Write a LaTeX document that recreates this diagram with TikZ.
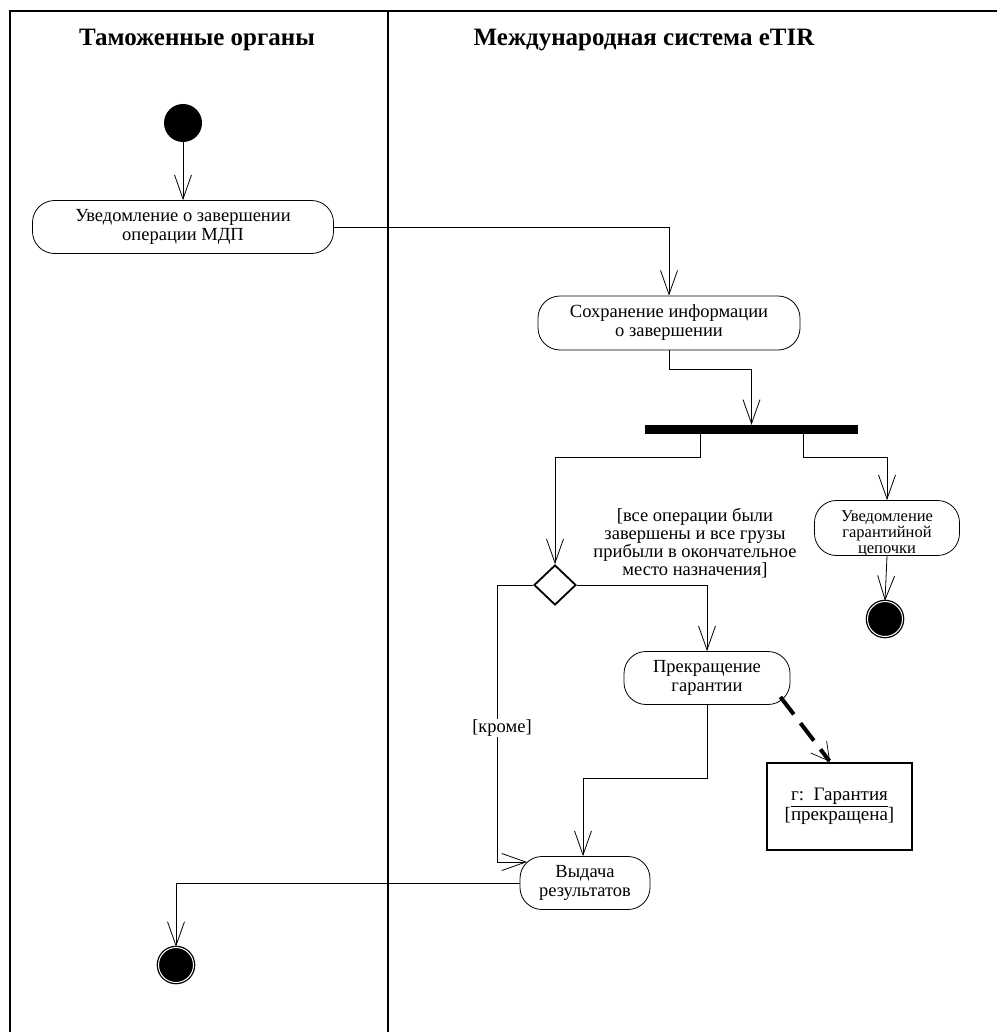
\documentclass[tikz,border=0pt]{standalone}
\usepackage{fontspec}
\setmainfont{Liberation Serif}
\usetikzlibrary{arrows.meta,shapes.geometric}

\begin{document}
\begin{tikzpicture}[x=1pt,y=-1pt,
    lane/.style={line width=2.5pt},
    head/.style={font=\fontsize{25}{28}\selectfont\bfseries},
    act/.style={draw, line width=0.8pt, rounded corners=22pt, align=center,
        inner sep=0pt, font=\fontsize{18.5}{19}\selectfont},
    flow/.style={line width=0.8pt, -{Straight Barb[length=24pt,width=17pt,line width=0.8pt]}},
    start/.style={circle, fill=black, minimum size=38pt, inner sep=0pt},
    finish/.style={circle, draw=black, fill=black, line width=1.3pt, double=white,
        double distance=1pt, minimum size=35pt, inner sep=0pt},
    guard/.style={align=center, font=\fontsize{18.5}{18}\selectfont}]

    \useasboundingbox (0,0) rectangle (997,1032);

    % swimlanes
    \draw [lane] (10,1032) -- (10,11) -- (997,11);
    \draw [lane] (388,11) -- (388,1032);
    \node [head] (customs) at (197,40) {Таможенные органы};
    \node [head] (etir) at (644,40) {Международная система eTIR};

    % nodes
    \node [start] (init) at (183,123) {};
    \node [act, minimum width=301pt, minimum height=53pt] (notify) at (183,227)
        {Уведомление о завершении\\операции МДП};
    \node [act, minimum width=262pt, minimum height=54pt] (store) at (669,323)
        {Сохранение информации\\о завершении};
    \node [fill=black, minimum width=213pt, minimum height=9pt, inner sep=0pt] (fork) at (751.5,429.5) {};
    \node [act, minimum width=145pt, minimum height=55pt, font=\fontsize{16.5}{16}\selectfont] (chain) at (887,528)
        {\raisebox{-6pt}[\height][\depth]{\begin{tabular}{@{}c@{}}Уведомление\\гарантийной\\цепочки\end{tabular}}};
    \node [finish] (endchain) at (885,619) {};
    \node [diamond, draw, line width=1.8pt, minimum width=42pt, minimum height=40pt, inner sep=0pt] (choice) at (555,585) {};
    \node [guard] (cond) at (695,543)
        {[все операции были\\завершены и все грузы\\прибыли в окончательное\\место назначения]};
    \node [act, minimum width=166pt, minimum height=53pt] (stop) at (707,678)
        {Прекращение\\гарантии};
    \node [act, minimum width=130pt, minimum height=53pt] (result) at (585,883)
        {Выдача\\результатов};
    \node [draw, line width=2.5pt, minimum width=145pt, minimum height=87pt, align=center,
        font=\fontsize{19}{19}\selectfont] (guar) at (839.5,806.5)
        {\underline{г:~~Гарантия}\\{[прекращена]}};
    \node [finish] (endall) at (176,965) {};

    % connectors
    \coordinate (enter) at (527,862);
    \draw [flow] (init) -- (notify);
    \draw [flow] (notify.east) -| (store.north);
    \draw [flow] (store.south) -- ++(0,19) -| (fork.north);
    \draw [flow] ([xshift=-51.5pt]fork.south) -- ++(0,23) -| (choice.north);
    \draw [flow] ([xshift=51.5pt]fork.south) -- ++(0,23) -| (chain.north);
    \draw [flow] (chain.south) -- (endchain.north);
    \draw [flow] (choice.east) -| (stop.north);
    \draw [flow] (choice.west) -| (497,862) -- (enter);
    \node [fill=white, inner sep=1pt, font=\fontsize{18.5}{16}\selectfont] (other) at (502,728) {[кроме]};
    \draw [flow] (stop.south) -- ++(0,73) -| ([xshift=-2pt]result.north);
    \draw [flow] (result.west) -| (endall.north);
    \draw [line width=4pt, dash pattern=on 22pt off 11pt,
        -{Straight Barb[length=18pt,width=20pt,line width=0.7pt]}]
        ([xshift=-10pt,yshift=8pt]stop.south east) -- ([xshift=-9.5pt]guar.north);

\end{tikzpicture}
\end{document}
